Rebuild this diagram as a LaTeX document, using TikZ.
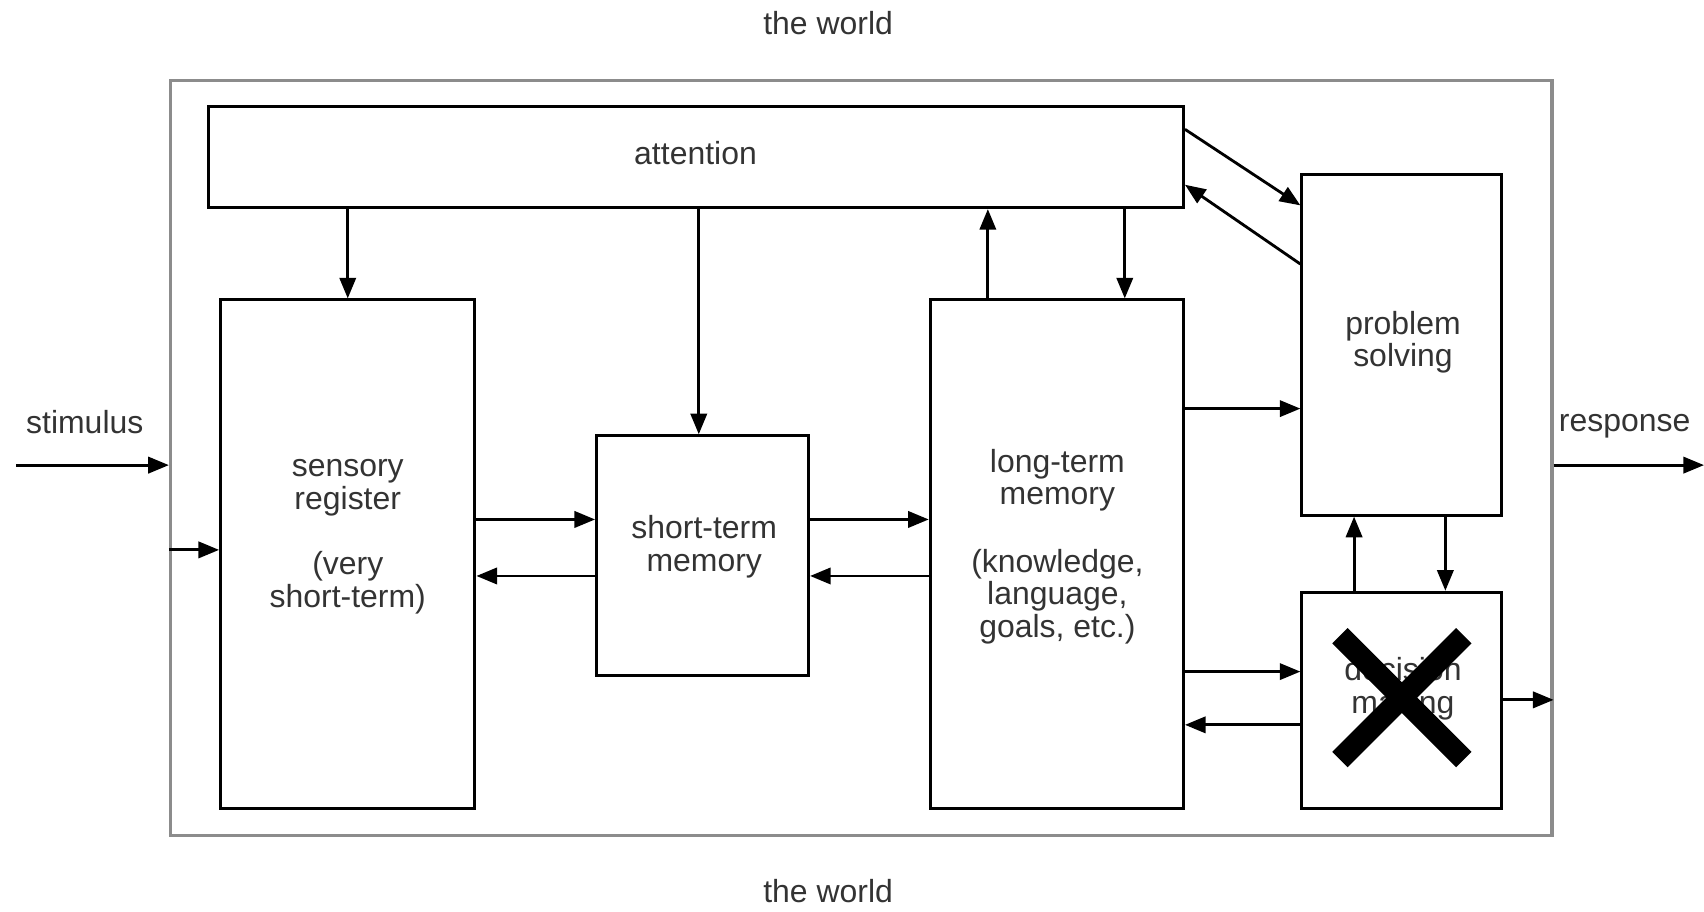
\documentclass[tikz,border=0pt]{standalone}
\usepackage{fontspec}
\setmainfont{Liberation Sans}
\usetikzlibrary{arrows.meta,fit}
\begin{document}
\begin{tikzpicture}[x=0.5pt,y=-0.5pt,
  box/.style={draw=black, line width=1.4pt, inner sep=0pt},
  frame/.style={draw=black!45, line width=1.6pt, inner sep=0pt},
  txt/.style={text=black!80, align=center, font=\fontsize{14.7}{15}\selectfont, inner sep=0pt},
  arr/.style={draw=black, line width=1.3pt, -{Triangle[length=9.5pt,width=7.5pt]}},
  cross/.style={draw=black, line width=10pt, line cap=butt}
]
\useasboundingbox (0,0) rectangle (1568,839);

% outer frame: the world
\node[frame, fit={(157,74) (1428,769)}] (world) {};

% component boxes
\node[box, fit={(192,98) (1089,191)}]   (att) {};
\node[box, fit={(203,276) (437,744)}]   (sr)  {};
\node[box, fit={(549,401) (744,622)}]   (stm) {};
\node[box, fit={(856,276) (1089,744)}]  (ltm) {};
\node[box, fit={(1198,161) (1382,474)}] (ps)  {};
\node[box, fit={(1198,545) (1382,744)}] (dm)  {};

% labels
\node[txt] (tworld) at (762,21)  {the world};
\node[txt] (bworld) at (762,820) {the world};
\node[txt] (tstim)  at (78,388)  {stimulus};
\node[txt] (tresp)  at (1495,392) {response};
\node[txt] (tatt)   at (640,141) {attention};
\node[txt] (tsr)    at (320,494) {sensory\\register\\[15pt](very\\short-term)};
\node[txt] (tstm)   at (648,503) {short-term\\memory};
\node[txt] (tltm)   at (973,503) {long-term\\memory\\[16pt](knowledge,\\language,\\goals, etc.)};
\node[txt] (tps)    at (1291,315) {problem\\solving};
\node[txt] (tdm)    at (1291,634) {decision\\making};

% helper positions for connectors
\coordinate (stimin) at (15,428);
\coordinate (respout) at (1568,428);
\coordinate (h506) at (0,506);
\coordinate (v320) at (320,0);
\coordinate (v643) at (643,0);
\coordinate (v909) at (909,0);
\coordinate (v1035) at (1035,0);
\coordinate (h478) at (0,478);
\coordinate (h530) at (0,530);
\coordinate (h119) at (0,119);
\coordinate (h189) at (0,189);
\coordinate (h243) at (0,243);
\coordinate (h170) at (0,170);
\coordinate (h376) at (0,376);
\coordinate (h618) at (0,618);
\coordinate (h667) at (0,667);
\coordinate (v1246) at (1246,0);
\coordinate (v1330) at (1330,0);
\coordinate (h644) at (0,644);

% connectors
\draw[arr] (stimin) -- (stimin -| world.west);
\draw[arr] (world.west |- h506) -- (sr.west |- h506);
\draw[arr] (att.south -| v320) -- (sr.north -| v320);
\draw[arr] (att.south -| v643) -- (stm.north -| v643);
\draw[arr] (ltm.north -| v909) -- (att.south -| v909);
\draw[arr] (att.south -| v1035) -- (ltm.north -| v1035);
\draw[arr] (sr.east |- h478) -- (stm.west |- h478);
\draw[arr] (stm.west |- h530) -- (sr.east |- h530);
\draw[arr] (stm.east |- h478) -- (ltm.west |- h478);
\draw[arr] (ltm.west |- h530) -- (stm.east |- h530);
\draw[arr] (att.east |- h119) -- (ps.west |- h189);
\draw[arr] (ps.west |- h243) -- (att.east |- h170);
\draw[arr] (ltm.east |- h376) -- (ps.west |- h376);
\draw[arr] (ltm.east |- h618) -- (dm.west |- h618);
\draw[arr] (dm.west |- h667) -- (ltm.east |- h667);
\draw[arr] (dm.north -| v1246) -- (ps.south -| v1246);
\draw[arr] (ps.south -| v1330) -- (dm.north -| v1330);
\draw[arr] (dm.east |- h644) -- (world.east |- h644);
\draw[arr] (world.east |- respout) -- (respout);

% cross over decision making
\coordinate (xa) at (1233,585);
\coordinate (xb) at (1347,699);
\coordinate (xc) at (1233,699);
\coordinate (xd) at (1347,585);
\draw[cross] (xa) -- (xb);
\draw[cross] (xc) -- (xd);
\end{tikzpicture}
\end{document}
